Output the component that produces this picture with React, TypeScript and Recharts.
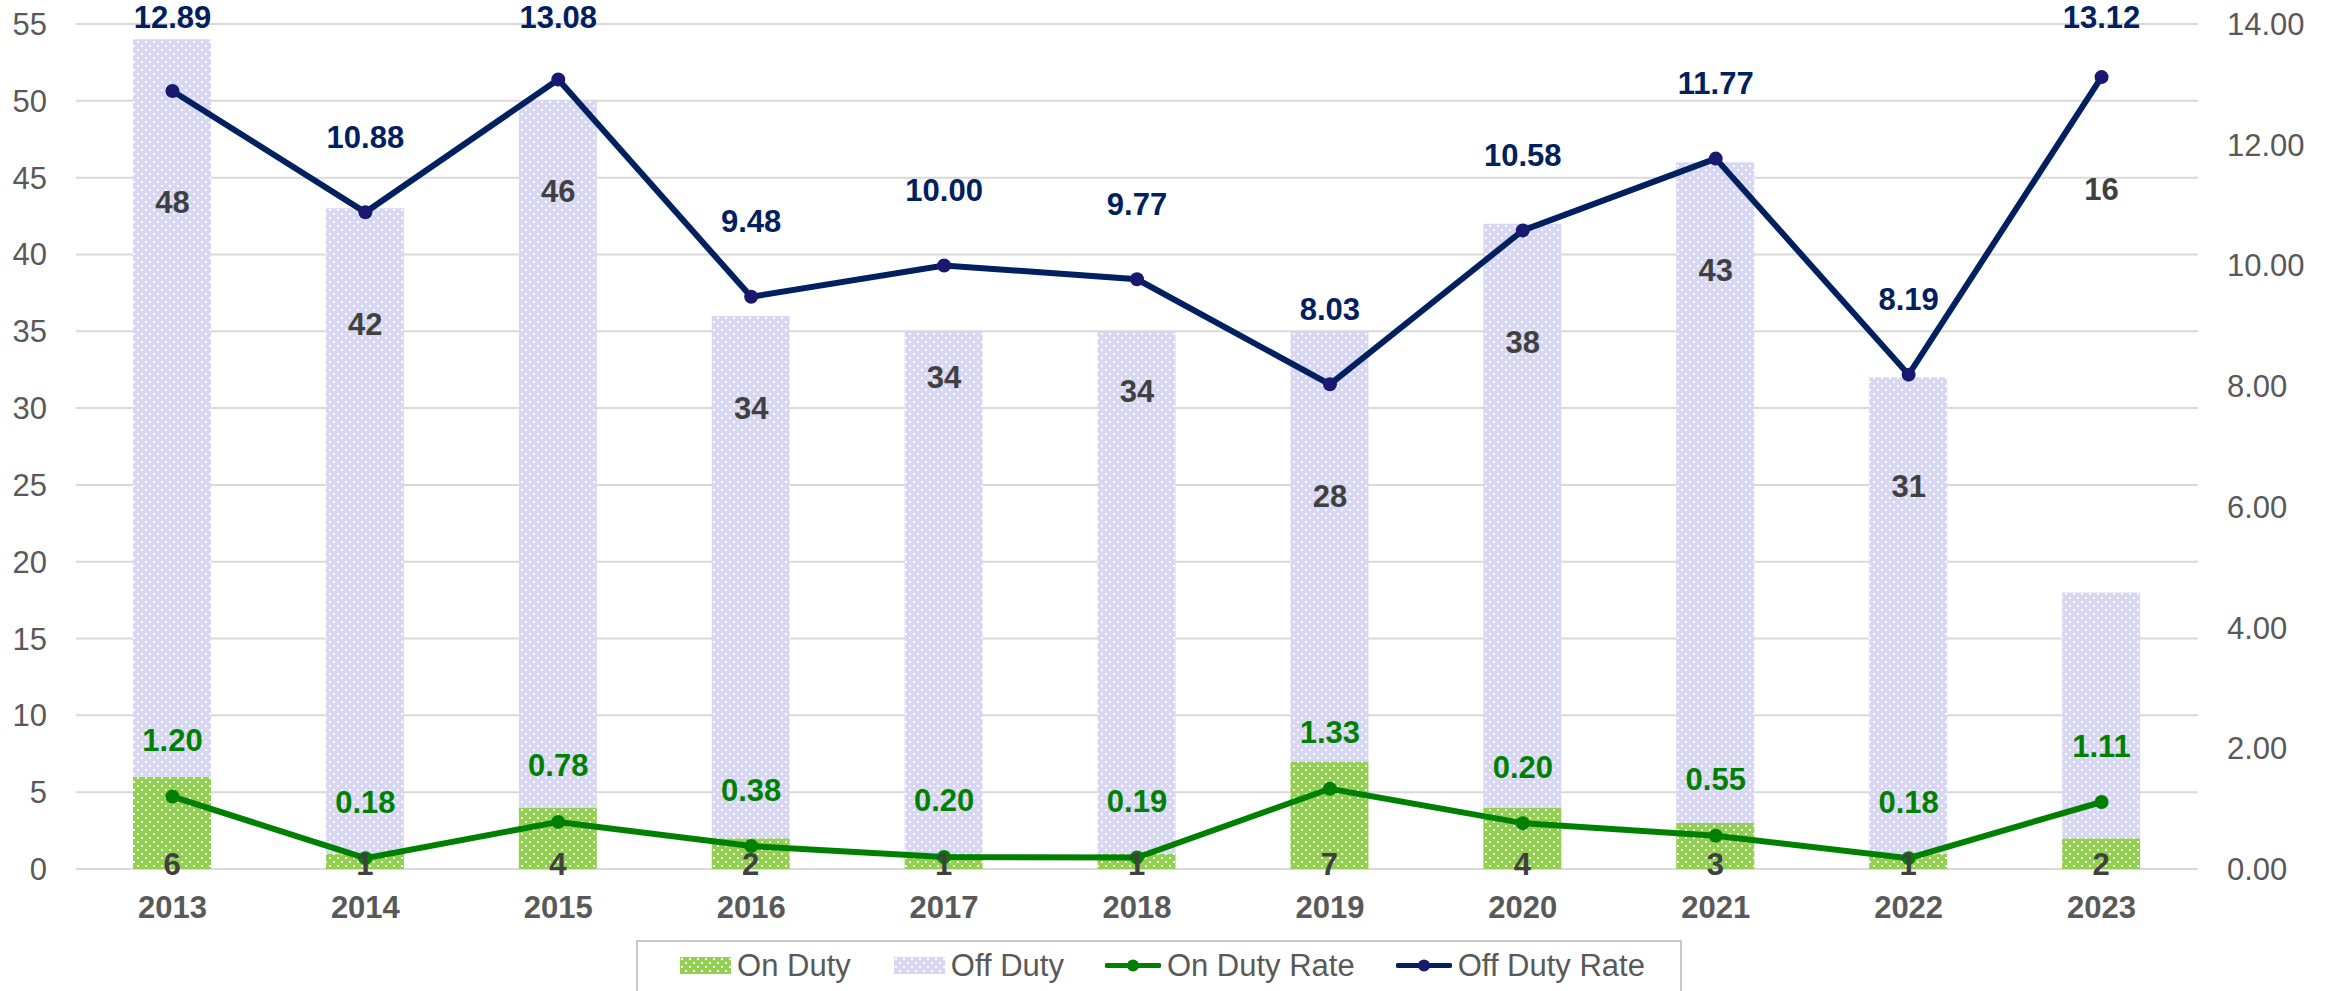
import {
  Bar,
  CartesianGrid,
  ComposedChart,
  LabelList,
  Legend,
  Line,
  XAxis,
  YAxis,
} from "recharts";

const years = ["2013", "2014", "2015", "2016", "2017", "2018", "2019", "2020", "2021", "2022", "2023"];
const onDuty = [6, 1, 4, 2, 1, 1, 7, 4, 3, 1, 2];
const offDuty = [48, 42, 46, 34, 34, 34, 28, 38, 43, 31, 16];
const onDutyRate = [1.2, 0.18, 0.78, 0.38, 0.2, 0.19, 1.33, 0.76, 0.55, 0.18, 1.11];
// the printed labels, 2020 shows 0.20 though its point sits near 0.76
const onDutyRateLabels = ["1.20", "0.18", "0.78", "0.38", "0.20", "0.19", "1.33", "0.20", "0.55", "0.18", "1.11"];
const offDutyRate = [12.89, 10.88, 13.08, 9.48, 10.0, 9.77, 8.03, 10.58, 11.77, 8.19, 13.12];
const leftTicks = [0, 5, 10, 15, 20, 25, 30, 35, 40, 45, 50, 55];
const rightTicks = [0, 2, 4, 6, 8, 10, 12, 14];

const data = years.map((year, i) => ({
  year,
  onDuty: onDuty[i],
  offDuty: offDuty[i],
  onDutyRate: onDutyRate[i],
  offDutyRate: offDutyRate[i],
}));

const FONT = "'Liberation Sans', Arial, sans-serif";
const GREEN = "#92d050";
const LAVENDER = "#d7d7f4";
const GREEN_LINE = "#008000";
const NAVY = "#002060";
const NAVY_DOT = "#191970";
const TICK = "#595959";

function Swatch({ fill }: { fill: string }) {
  return (
    <svg width={51} height={17} style={{ display: "block" }}>
      <rect width={51} height={17} fill={fill} />
    </svg>
  );
}

function LineSwatch({ color, dot }: { color: string; dot: string }) {
  return (
    <svg width={56} height={17} style={{ display: "block" }}>
      <line x1={2} y1={8.5} x2={54} y2={8.5} stroke={color} strokeWidth={5} strokeLinecap="round" />
      <circle cx={28} cy={8.5} r={6} fill={dot} />
    </svg>
  );
}

function LegendBox() {
  const item = (sym: React.ReactNode, text: string, ml: number) => (
    <div style={{ display: "flex", alignItems: "center", marginLeft: ml }}>
      {sym}
      <span style={{ marginLeft: 6, fontSize: 31, color: TICK, lineHeight: "36px" }}>{text}</span>
    </div>
  );
  return (
    <div style={{ height: 56, display: "flex", justifyContent: "center", paddingRight: 17, boxSizing: "border-box" }}>
      <div
        style={{
          marginTop: 5,
          height: 51,
          boxSizing: "border-box",
          border: "2px solid #c8c8c8",
          borderBottom: "none",
          display: "flex",
          alignItems: "center",
          paddingLeft: 42,
          paddingRight: 35,
          paddingBottom: 2,
          fontFamily: FONT,
        }}
      >
        {item(<Swatch fill="url(#patOn)" />, "On Duty", 0)}
        {item(<Swatch fill="url(#patOff)" />, "Off Duty", 43)}
        {item(<LineSwatch color={GREEN_LINE} dot={GREEN_LINE} />, "On Duty Rate", 41)}
        {item(<LineSwatch color={NAVY} dot={NAVY_DOT} />, "Off Duty Rate", 41)}
      </div>
    </div>
  );
}

const labelStyle = { fontSize: 31, fontWeight: 700, fontFamily: FONT };

export default function App() {
  return (
    <div style={{ position: "absolute", left: 0, top: 0, width: 2335, height: 991, background: "#fff" }}>
      <svg width={0} height={0} style={{ position: "absolute" }}>
        <defs>
          <pattern id="patOn" width={8} height={8} patternUnits="userSpaceOnUse">
            <rect width={8} height={8} fill={GREEN} />
            <rect x={1} y={1} width={2} height={2} fill="#fff" />
            <rect x={5} y={5} width={2} height={2} fill="#fff" />
          </pattern>
          <pattern id="patOff" width={8} height={8} patternUnits="userSpaceOnUse">
            <rect width={8} height={8} fill={LAVENDER} />
            <rect x={1} y={1} width={2} height={2} fill="#fff" />
            <rect x={5} y={5} width={2} height={2} fill="#fff" />
          </pattern>
        </defs>
      </svg>
      <ComposedChart
        width={2335}
        height={991}
        data={data}
        margin={{ top: 24, right: 0, left: 0, bottom: 0 }}
        style={{ fontFamily: FONT }}
      >
        <CartesianGrid yAxisId="left" vertical={false} stroke="#d9d9d9" strokeWidth={2} />
        <XAxis
          dataKey="year"
          interval={0}
          axisLine={false}
          tickLine={false}
          tickSize={0}
          tickMargin={27}
          height={66}
          tick={{ fontSize: 31, fontWeight: 700, fill: TICK }}
        />
        <YAxis
          yAxisId="left"
          domain={[0, 55]}
          ticks={leftTicks}
          width={76}
          axisLine={false}
          tickLine={false}
          tickSize={0}
          tickMargin={29}
          tick={{ fontSize: 31, fill: TICK }}
        />
        <YAxis
          yAxisId="right"
          orientation="right"
          domain={[0, 14]}
          ticks={rightTicks}
          width={137}
          axisLine={false}
          tickLine={false}
          tickSize={0}
          tickMargin={29}
          tick={{ fontSize: 31, fill: TICK, textAnchor: "start" }}
          tickFormatter={(v: number) => v.toFixed(2)}
        />
        <Legend verticalAlign="bottom" height={56} content={() => <LegendBox />} />
        <Bar
          yAxisId="left"
          dataKey="onDuty"
          name="On Duty"
          stackId="a"
          barSize={78}
          fill="url(#patOn)"
          isAnimationActive={false}
        >
          <LabelList
            dataKey="onDuty"
            content={(p: any) => (
              <text
                x={p.x + p.width / 2}
                y={p.y + p.height - 5}
                textAnchor="middle"
                dominantBaseline="central"
                fill="#404040"
                style={labelStyle}
              >
                {p.value}
              </text>
            )}
          />
        </Bar>
        <Bar
          yAxisId="left"
          dataKey="offDuty"
          name="Off Duty"
          stackId="a"
          barSize={78}
          fill="url(#patOff)"
          isAnimationActive={false}
        />
        <Line
          yAxisId="right"
          type="linear"
          dataKey="onDutyRate"
          name="On Duty Rate"
          stroke={GREEN_LINE}
          strokeWidth={6}
          dot={{ r: 7, fill: GREEN_LINE, stroke: "none" }}
          activeDot={false}
          isAnimationActive={false}
        >
          <LabelList
            dataKey="onDutyRate"
            content={(p: any) => (
              <text
                x={p.x}
                y={p.y - 56}
                textAnchor="middle"
                dominantBaseline="central"
                fill={GREEN_LINE}
                style={labelStyle}
              >
                {onDutyRateLabels[p.index]}
              </text>
            )}
          />
        </Line>
        <Line
          yAxisId="right"
          type="linear"
          dataKey="offDutyRate"
          name="Off Duty Rate"
          stroke={NAVY}
          strokeWidth={6}
          dot={{ r: 7, fill: NAVY_DOT, stroke: "none" }}
          activeDot={false}
          isAnimationActive={false}
        >
          <LabelList
            dataKey="offDutyRate"
            content={(p: any) => (
              <text
                x={p.x}
                y={Math.max(p.y - 75, 17)}
                textAnchor="middle"
                dominantBaseline="central"
                fill={NAVY}
                style={labelStyle}
              >
                {Number(p.value).toFixed(2)}
              </text>
            )}
          />
          <LabelList
            dataKey="offDuty"
            content={(p: any) => (
              <text
                x={p.x}
                y={p.y + 112}
                textAnchor="middle"
                dominantBaseline="central"
                fill="#404040"
                style={labelStyle}
              >
                {p.value}
              </text>
            )}
          />
        </Line>
      </ComposedChart>
    </div>
  );
}
